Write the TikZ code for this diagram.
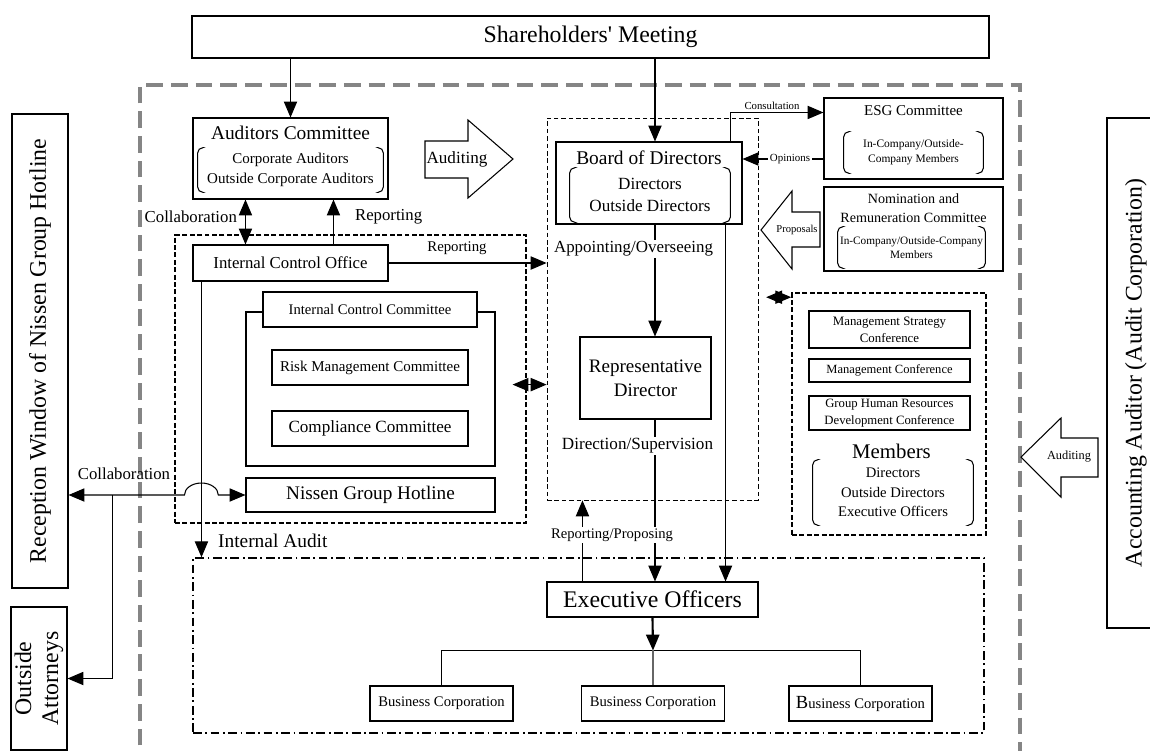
\documentclass[tikz,border=0pt]{standalone}
\usepackage{fontspec}
\setmainfont{Liberation Serif}
\usepackage{tikz}
\usetikzlibrary{positioning,arrows.meta,calc}
\definecolor{framegray}{HTML}{858585}
\newcommand{\upx}{0.567pt}
\newcommand{\fsz}[2]{\fontsize{#1}{#2}\selectfont}
\tikzset{
    box/.style={rectangle, draw, line width=0.6pt, fill=white, inner sep=0pt, align=center},
    sz/.style 2 args={minimum width=#1*\upx, minimum height=#2*\upx},
    lbl/.style={inner sep=1pt, align=center},
    arr/.style={-{Triangle[length=9pt,width=7.5pt]}, line width=0.6pt},
    dblarr/.style={{Triangle[length=9pt,width=7.5pt]}-{Triangle[length=9pt,width=7.5pt]}, line width=0.6pt},
    outer/.style={draw=framegray, line width=2.3pt, dash pattern=on 9.5pt off 4.5pt},
    group/.style={rectangle, draw, line width=0.9pt, dash pattern=on 2.8pt off 1.4pt, inner sep=0pt},
    thingroup/.style={rectangle, draw, line width=0.45pt, dash pattern=on 2.6pt off 1.6pt, inner sep=0pt},
    dashdot/.style={rectangle, draw, line width=0.8pt, dash pattern=on 5pt off 2pt on 1pt off 2pt, inner sep=0pt},
    bigarrow/.style={draw, line width=0.6pt, fill=white, line join=miter}
}
% round brackets around a member list
\newcommand{\parens}[1]{%
  \draw[line width=0.6pt, rounded corners=3pt] ($(#1.north west)+(5,0)$) -- (#1.north west) -- (#1.south west) -- ($(#1.south west)+(5,0)$);
  \draw[line width=0.6pt, rounded corners=3pt] ($(#1.north east)+(-5,0)$) -- (#1.north east) -- (#1.south east) -- ($(#1.south east)+(-5,0)$);}

\begin{document}
\begin{tikzpicture}[x=0.567pt, y=-0.567pt]
\useasboundingbox (0,0) rectangle (1150,751);

% Company boundary
\draw[outer] (140,770) -- (140,85) -- (1020,85) -- (1020,770);

% Groups
\node[group, sz={351}{288}] (icbox) at (350.5,379) {};
\node[thingroup, sz={211}{382}] (bdbox) at (652.5,309) {};
\node[group, sz={194}{242}] (mbox) at (889,414) {};
\node[dashdot, sz={791}{175}] (ddbox) at (588.5,645.5) {};

% Shareholders
\node[box, sz={797}{42}, font=\fsz{13.5}{16}] (share) at (590.5,37) {Shareholders\textquotesingle\ Meeting};

% Auditors
\node[box, sz={195}{81}] (aud) at (290.5,158.5) {};
\node[lbl, font=\fsz{11}{13}] (audt) at (290.5,133) {Auditors Committee};
\node[lbl, sz={185}{44}, font=\fsz{8.5}{11.3}] (audm) at (290.5,170) {Corporate Auditors\\Outside Corporate Auditors};
\parens{audm}

% Internal control
\node[box, sz={195}{36}, font=\fsz{9.5}{11}] (ico) at (290.5,263) {Internal Control Office};
\node[box, sz={249}{154}] (icc) at (370.5,389) {};
\node[box, sz={214}{35}, font=\fsz{8.3}{10}] (icct) at (370,309.5) {Internal Control Committee};
\node[box, sz={196}{35}, font=\fsz{8.5}{10}] (risk) at (370,367.5) {Risk Management Committee};
\node[box, sz={196}{35}, font=\fsz{9.7}{11}] (comp) at (370,428.5) {Compliance Committee};
\node[box, sz={249}{34}, font=\fsz{10.9}{13}] (hot) at (370.5,495) {Nissen Group Hotline};

% Board
\node[box, sz={186}{82}] (board) at (649,183) {};
\node[lbl, font=\fsz{11}{13}] (boardt) at (649,158) {Board of Directors};
\node[lbl, sz={160}{54}, font=\fsz{9.7}{12.5}] (boardm) at (650,195) {Directors\\Outside Directors};
\parens{boardm}
\node[box, sz={131}{82}, font=\fsz{10.8}{13.6}] (rep) at (645.5,378) {Representative\\Director};

% Committees
\node[box, sz={179}{81}] (esg) at (913.5,138.5) {};
\node[lbl, font=\fsz{8.5}{10}] (esgt) at (913.5,111) {ESG Committee};
\node[lbl, sz={139}{41}, font=\fsz{6.5}{8.5}] (esgm) at (913.5,152.5) {In-Company/Outside-\\Company Members};
\parens{esgm}
\node[box, sz={179}{84}] (nom) at (913.5,229) {};
\node[lbl, font=\fsz{8}{10.8}] (nomt) at (913.5,208.5) {Nomination and\\Remuneration Committee};
\node[lbl, sz={147}{41}, font=\fsz{6.4}{8}] (nomm) at (911.5,247.5) {In-Company/Outside-Company\\Members};
\parens{nomm}

% Conferences
\node[box, sz={161}{37}, font=\fsz{7.3}{9.6}] (msc) at (889.5,329.5) {Management Strategy\\Conference};
\node[box, sz={161}{23}, font=\fsz{7.1}{9}] (mcf) at (889.5,370.5) {Management Conference};
\node[box, sz={161}{34}, font=\fsz{7.2}{9.6}] (ghr) at (889.5,413) {Group Human Resources\\Development Conference};
\node[lbl, font=\fsz{11.8}{14}] (memt) at (891.5,451) {Members};
\node[lbl, sz={160}{65}, font=\fsz{8.3}{11}] (memm) at (893,492.5) {Directors\\Outside Directors\\Executive Officers};
\parens{memm}

% Execution
\node[box, sz={211}{35}, font=\fsz{13.5}{16}] (eo) at (652.5,599.5) {Executive Officers};
\node[box, sz={143}{35}, font=\fsz{8.3}{10}] (bc1) at (441.5,703.5) {Business Corporation};
\node[box, sz={143}{35}, font=\fsz{8.3}{10}] (bc2) at (653,703.5) {Business Corporation};
\node[box, sz={143}{35}, font=\fsz{8.3}{10}] (bc3) at (860.5,703.5) {{\fsz{10.5}{10}B}usiness Corporation};

% Outside parties
\node[box, rotate=90, sz={474}{56}, font=\fsz{13.5}{16}] (rec) at (40,351) {Reception Window of Nissen Group Hotline};
\node[box, rotate=90, sz={143}{56}, font=\fsz{13.5}{15.3}] (oa) at (39,678.5) {Outside\\Attorneys};
\node[box, rotate=90, sz={510}{58}, font=\fsz{13.5}{16}] (acc) at (1136,373) {Accounting Auditor (Audit Corporation)};

% Block arrows
\draw[bigarrow] (425,141) -- (468,141) -- (468,120) -- (513,159) -- (468,198) -- (468,178) -- (425,178) -- cycle;
\node[lbl, font=\fsz{9.7}{11}] (audarrow) at (457,159) {Auditing};
\draw[bigarrow] (820,212) -- (792,212) -- (792,191) -- (761,230) -- (792,269) -- (792,247) -- (820,247) -- cycle;
\node[lbl, font=\fsz{6}{7}] (proparrow) at (797,230) {Proposals};
\draw[bigarrow] (1098,438) -- (1061,438) -- (1061,418) -- (1021,457) -- (1061,497) -- (1061,477) -- (1098,477) -- cycle;
\node[lbl, font=\fsz{7}{8}] (accarrow) at (1069,457) {Auditing};

% Connectors
\coordinate (spine) at (655,0);
\draw[arr] (share.south -| aud.north) -- (aud.north);
\draw[arr] (share.south -| spine) -- (board.north -| spine);
\draw[dblarr] ($(aud.south west)+(53,0)$) -- ($(ico.north west)+(53,0)$);
\draw[arr] ($(ico.north west)+(141,0)$) -- ($(aud.south west)+(141,0)$);
\draw[arr] (ico.east) -- (bdbox.west |- ico.east);
\draw[arr] (board.south -| spine) -- (rep.north -| spine);
\draw[arr] (rep.south -| spine) -- (eo.north -| spine);
\draw[arr] ($(board.south east)+(-17,0)$) coordinate (bd) -- (bd |- eo.north);
\draw[arr] ($(eo.north west)+(36,0)$) coordinate (rp) -- (rp |- bdbox.south);
\draw[arr] ($(board.north east)+(-12,0)$) |- ($(esg.north west)+(0,15)$);
\draw[arr] ($(esg.west)+(0,20.5)$) coordinate (op) -- (op -| board.east);
\draw[dblarr] ($(bdbox.north west)+(-34,267)$) -- ($(bdbox.north west)+(0,267)$);
\draw[dblarr] ($(mbox.north west)+(-25,5)$) -- ($(mbox.north west)+(0,5)$);
\draw[arr] ($(ico.south west)+(9,0)$) coordinate (ia) -- (ia |- ddbox.north);
\draw[dblarr] (rec.south |- hot.west) -- ($(ia |- hot.west)+(-17,0)$) arc[start angle=180, end angle=0, x radius=9.6pt, y radius=6.8pt] -- (hot.west);
\draw[arr] ($(rec.south |- hot.west)+(44,0)$) |- (oa.south);
\coordinate (bus) at ($(bc2.north)+(0,-35)$);
\draw[line width=0.6pt] (bc1.north) |- (bus) -| (bc3.north);
\draw[line width=0.6pt, black!60] (bus) -- (bc2.north);
\draw[-{Triangle[length=9pt,width=7.5pt]}, line width=1.2pt] (eo.south) -- (bus);

% Connector labels
\node[lbl, anchor=east, font=\fsz{9.5}{11}] (collab1) at (239,217) {Collaboration};
\node[lbl, anchor=west, font=\fsz{9.5}{11}] (report1) at (353,217) {Reporting};
\node[lbl, font=\fsz{8.4}{10}] (report2) at (457,248) {Reporting};
\node[lbl, fill=white, font=\fsz{9.6}{11}] (appoint) at (633.5,249) {Appointing/Overseeing};
\node[lbl, fill=white, font=\fsz{9.7}{11}] (direct) at (637.5,446) {Direction/Supervision};
\node[lbl, fill=white, font=\fsz{8.3}{10}] (repprop) at (612,535) {Reporting/Proposing};
\node[lbl, font=\fsz{6.1}{7}] (consult) at (772,106) {Consultation};
\node[lbl, fill=white, font=\fsz{6.2}{7}] (opin) at (790,159) {Opinions};
\node[lbl, anchor=west, font=\fsz{11}{13}] (iatext) at (216,541) {Internal Audit};
\node[lbl, font=\fsz{9.5}{11}] (collab2) at (124,474) {Collaboration};

\end{tikzpicture}
\end{document}
